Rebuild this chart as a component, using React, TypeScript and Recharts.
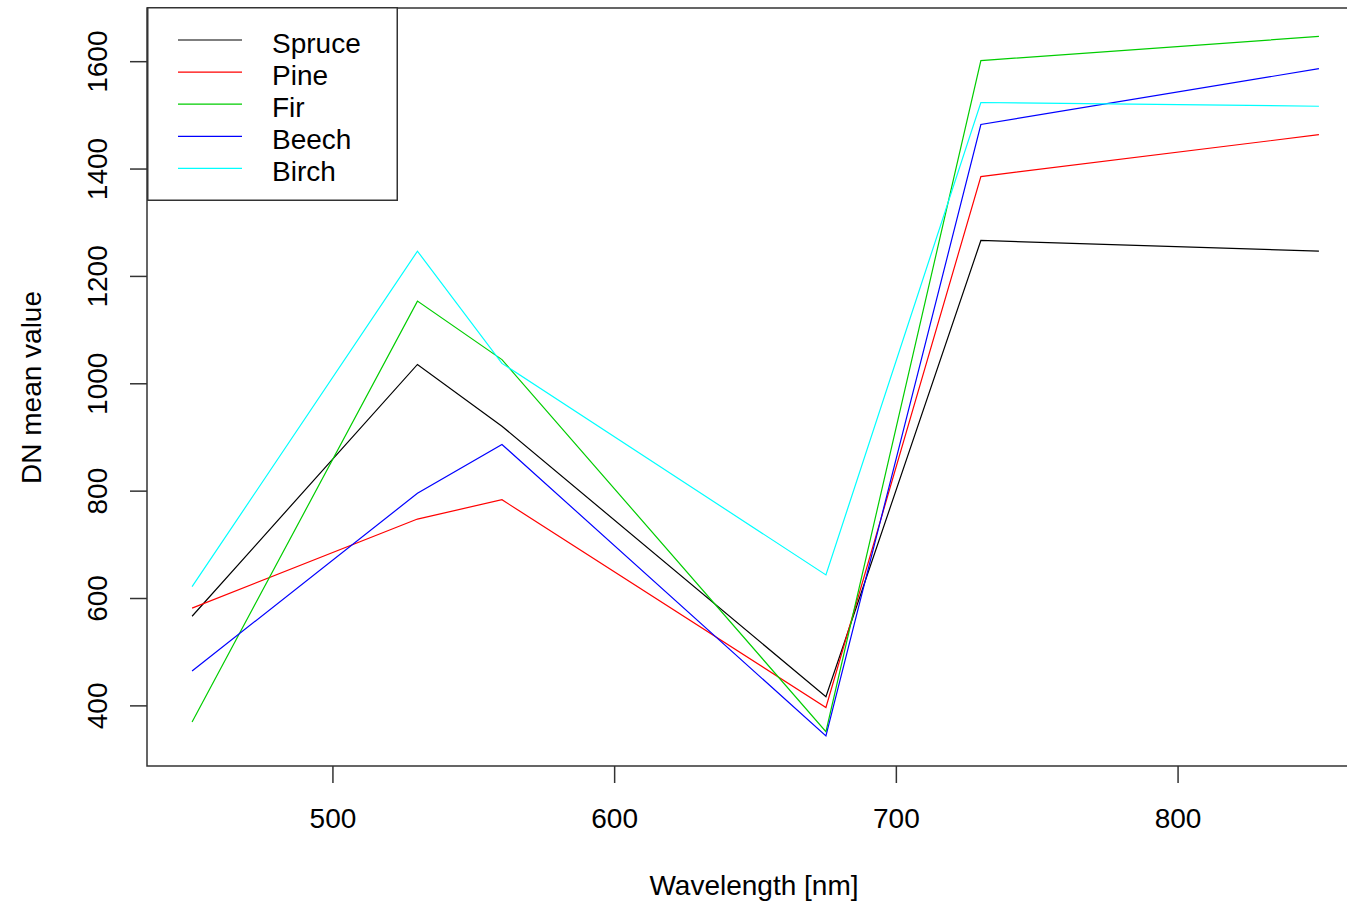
import { LineChart, Line, XAxis, YAxis, Legend, ReferenceArea, Label } from "recharts"

// band centres (nm) and the DN mean value per species
const wavelengths = [450, 530, 560, 675, 730, 850]
const spruce = [567, 1036, 921, 417, 1267, 1247]
const pine = [582, 748, 784, 397, 1386, 1464]
const fir = [370, 1154, 1045, 352, 1602, 1647]
const beech = [465, 796, 887, 344, 1483, 1587]
const birch = [622, 1247, 1038, 644, 1524, 1517]

const xTicks = [500, 600, 700, 800]
const yTicks = [400, 600, 800, 1000, 1200, 1400, 1600]

const series = [
  { key: "spruce", name: "Spruce", color: "#000000", values: spruce },
  { key: "pine", name: "Pine", color: "#FF0000", values: pine },
  { key: "fir", name: "Fir", color: "#00CD00", values: fir },
  { key: "beech", name: "Beech", color: "#0000FF", values: beech },
  { key: "birch", name: "Birch", color: "#00FFFF", values: birch },
]

const data = wavelengths.map((wl, i) => {
  const row: Record<string, number> = { wl }
  series.forEach((s) => {
    row[s.key] = s.values[i]
  })
  return row
})

const FONT = "'Liberation Sans', Arial, sans-serif"
const AXIS = "#333"

function XTick({ x, payload }: any) {
  return (
    <text x={x} y={828} textAnchor="middle" fontSize={28} fontFamily={FONT} fill="#000">
      {payload.value}
    </text>
  )
}

function YTick({ y, payload }: any) {
  return (
    <text
      transform={`translate(107, ${y}) rotate(-90)`}
      textAnchor="middle"
      fontSize={28}
      fontFamily={FONT}
      fill="#000"
    >
      {payload.value}
    </text>
  )
}

// keep the legend in plotting order (recharts sorts by name otherwise)
function LegendBox({ payload }: any) {
  if (!payload?.length) return null
  const order = series.map((s) => s.name)
  const items = [...payload].sort((a: any, b: any) => order.indexOf(a.value) - order.indexOf(b.value))
  return (
    <svg width={251} height={195} style={{ display: "block" }}>
      <rect x={0.75} y={0.75} width={249.5} height={192.5} fill="#fff" stroke={AXIS} strokeWidth={1.5} />
      {items.map((p: any, i: number) => {
        const cy = 33 + i * 32.1
        return (
          <g key={p.value}>
            <line x1={31} x2={95} y1={cy} y2={cy} stroke={p.color} strokeWidth={1.2} />
            <text x={125} y={cy + 12.7} fontSize={28} fontFamily={FONT} fill="#000">
              {p.value}
            </text>
          </g>
        )
      })}
    </svg>
  )
}

export default function App() {
  return (
    <div
      style={{
        position: "absolute",
        left: 0,
        top: 0,
        width: 1347,
        height: 903,
        overflow: "hidden",
        background: "#fff",
      }}
    >
      <LineChart width={1364} height={903} data={data} margin={{ top: 8, right: 0, bottom: 0, left: 0 }}>
        <XAxis
          type="number"
          dataKey="wl"
          domain={[434, 866]}
          ticks={xTicks}
          allowDataOverflow
          height={137}
          tickSize={17}
          axisLine={false}
          tickLine={{ stroke: AXIS, strokeWidth: 1.5 }}
          tick={<XTick />}
        >
          <Label
            content={() => (
              <text x={754} y={895} textAnchor="middle" fontSize={28} fontFamily={FONT} fill="#000">
                Wavelength [nm]
              </text>
            )}
          />
        </XAxis>
        <YAxis
          type="number"
          domain={[288, 1700]}
          ticks={yTicks}
          allowDataOverflow
          width={147}
          tickSize={17}
          axisLine={false}
          tickLine={{ stroke: AXIS, strokeWidth: 1.5 }}
          tick={<YTick />}
        >
          <Label
            content={() => (
              <text
                transform="translate(41, 387.5) rotate(-90)"
                textAnchor="middle"
                fontSize={28}
                fontFamily={FONT}
                fill="#000"
              >
                DN mean value
              </text>
            )}
          />
        </YAxis>
        <ReferenceArea x1={434} x2={866} y1={288} y2={1700} fill="none" stroke={AXIS} strokeWidth={1.5} />
        {series.map((s) => (
          <Line
            key={s.key}
            type="linear"
            dataKey={s.key}
            name={s.name}
            stroke={s.color}
            strokeWidth={1.2}
            dot={false}
            activeDot={false}
            isAnimationActive={false}
          />
        ))}
        <Legend
          layout="horizontal"
          verticalAlign="middle"
          align="center"
          content={<LegendBox />}
          wrapperStyle={{ position: "absolute", left: 147, top: 7, width: 251, height: 195 }}
        />
      </LineChart>
    </div>
  )
}
